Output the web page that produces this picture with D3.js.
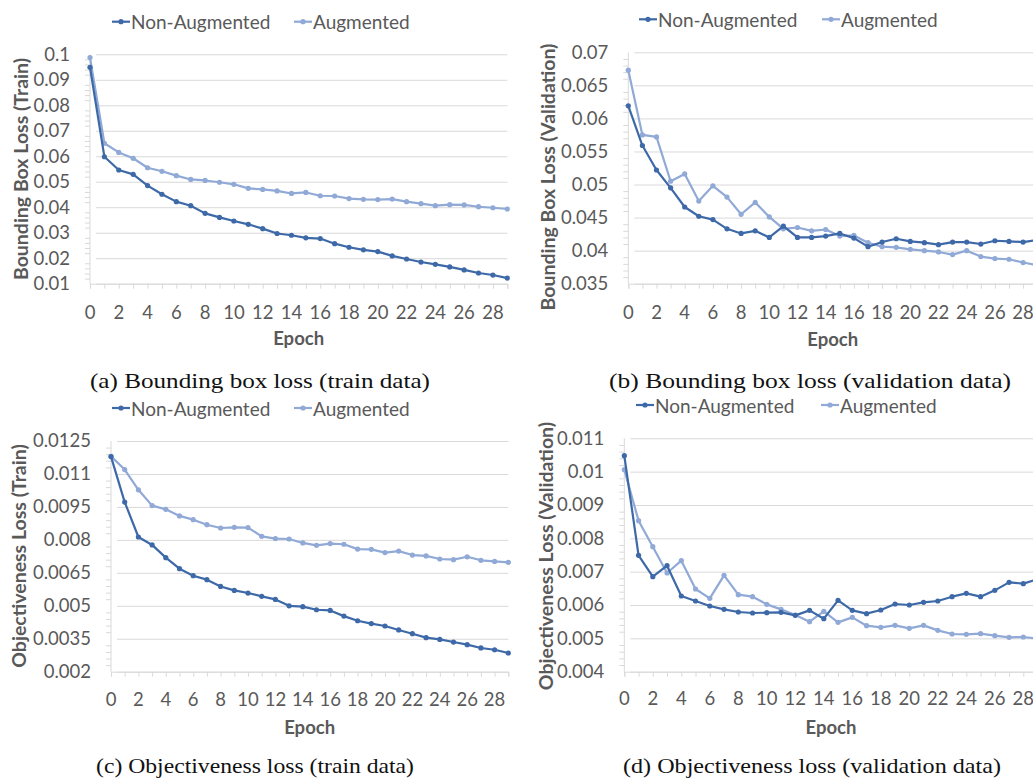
<!DOCTYPE html>
<html>
<head>
<meta charset="utf-8">
<script src="https://cdn.jsdelivr.net/npm/d3@7"></script>
<style>
  body { margin: 0; background: #fff; }
  svg { display: block; }
</style>
</head>
<body>
<svg id="chart"></svg>
<script>
// epochs and x tick labels
const epochs = d3.range(30);
const epochTicks = [0, 2, 4, 6, 8, 10, 12, 14, 16, 18, 20, 22, 24, 26, 28];

// (a) bounding box loss, train
const bboxTrainNonAug = [0.0949, 0.0598, 0.0546, 0.0529, 0.0485, 0.0451, 0.0422, 0.0406, 0.0376, 0.0360,
  0.0346, 0.0333, 0.0316, 0.0297, 0.0290, 0.0280, 0.0277, 0.0257, 0.0243, 0.0233,
  0.0226, 0.0209, 0.0197, 0.0185, 0.0176, 0.0166, 0.0154, 0.0142, 0.0134, 0.0122];
const bboxTrainAug = [0.0987, 0.0651, 0.0615, 0.0592, 0.0555, 0.0541, 0.0524, 0.0509, 0.0505, 0.0498,
  0.0490, 0.0474, 0.0470, 0.0464, 0.0454, 0.0458, 0.0445, 0.0444, 0.0434, 0.0431,
  0.0430, 0.0432, 0.0422, 0.0414, 0.0406, 0.0410, 0.0409, 0.0402, 0.0398, 0.0393];
const bboxTrainTicks = [0.1, 0.09, 0.08, 0.07, 0.06, 0.05, 0.04, 0.03, 0.02, 0.01];

// (b) bounding box loss, validation
const bboxValNonAug = [0.0619, 0.0559, 0.0522, 0.0495, 0.0466, 0.0452, 0.0447, 0.0433, 0.0426, 0.0430,
  0.0420, 0.0437, 0.0420, 0.0420, 0.0422, 0.0426, 0.0419, 0.0406, 0.0413, 0.0418,
  0.0414, 0.0412, 0.0409, 0.0413, 0.0413, 0.0410, 0.0415, 0.0414, 0.0413, 0.0416];
const bboxValAug = [0.0673, 0.0575, 0.0572, 0.0505, 0.0516, 0.0475, 0.0498, 0.0481, 0.0455, 0.0473,
  0.0451, 0.0433, 0.0435, 0.0430, 0.0432, 0.0422, 0.0423, 0.0412, 0.0406, 0.0405,
  0.0402, 0.0400, 0.0398, 0.0394, 0.0400, 0.0391, 0.0388, 0.0387, 0.0382, 0.0378];
const bboxValTicks = [0.07, 0.065, 0.06, 0.055, 0.05, 0.045, 0.04, 0.035];

// (c) objectiveness loss, train
const objTrainNonAug = [0.01179, 0.00972, 0.00813, 0.00777, 0.00719, 0.00669, 0.00637, 0.00619, 0.00588, 0.00570,
  0.00558, 0.00543, 0.00529, 0.00500, 0.00496, 0.00482, 0.00479, 0.00453, 0.00432, 0.00419,
  0.00408, 0.00390, 0.00373, 0.00355, 0.00347, 0.00335, 0.00323, 0.00308, 0.00300, 0.00285];
const objTrainAug = [0.01180, 0.01120, 0.01028, 0.00956, 0.00939, 0.00909, 0.00892, 0.00869, 0.00854, 0.00857,
  0.00856, 0.00816, 0.00806, 0.00804, 0.00786, 0.00775, 0.00783, 0.00780, 0.00758, 0.00757,
  0.00742, 0.00749, 0.00731, 0.00727, 0.00713, 0.00710, 0.00723, 0.00707, 0.00702, 0.00698];
const objTrainTicks = [0.0125, 0.011, 0.0095, 0.008, 0.0065, 0.005, 0.0035, 0.002];

// (d) objectiveness loss, validation
const objValNonAug = [0.01048, 0.00749, 0.00685, 0.00718, 0.00627, 0.00612, 0.00597, 0.00587, 0.00579, 0.00576,
  0.00577, 0.00578, 0.00569, 0.00584, 0.00559, 0.00614, 0.00584, 0.00574, 0.00585, 0.00603,
  0.00600, 0.00608, 0.00612, 0.00625, 0.00635, 0.00625, 0.00644, 0.00668, 0.00664, 0.00677];
const objValAug = [0.01006, 0.00853, 0.00775, 0.00696, 0.00733, 0.00648, 0.00620, 0.00689, 0.00631, 0.00625,
  0.00602, 0.00587, 0.00570, 0.00550, 0.00581, 0.00548, 0.00563, 0.00538, 0.00533, 0.00539,
  0.00530, 0.00539, 0.00524, 0.00513, 0.00512, 0.00514, 0.00508, 0.00503, 0.00504, 0.00499];
const objValTicks = [0.011, 0.01, 0.009, 0.008, 0.007, 0.006, 0.005, 0.004];

const seriesNames = ["Non-Augmented", "Augmented"];

const W = 1033, H = 778;
const colNon = "#3e69a8";
const colAug = "#90a9d6";
const textCol = "#595959";
const gridCol = "#d9d9d9";
const sansFont = "Lato, 'Open Sans', sans-serif";
const serifFont = "'Liberation Serif', 'DejaVu Serif', serif";

const svg = d3.select("#chart").attr("width", W).attr("height", H);

const panels = [
  { non: bboxTrainNonAug, aug: bboxTrainAug, ticks: bboxTrainTicks, minor: 5,
    title: "Bounding Box Loss (Train)", caption: "(a) Bounding box loss (train data)",
    left: 90, step: 14.39, top: 54.3, bottom: 283.7,
    legendX: 112, legendY: 21.7, legendGap: 182,
    titleX: 20, titleY: 169, tickY: 312, epochY: 338,
    captionX: 260, captionY: 380, captionW: 340 },
  { non: bboxValNonAug, aug: bboxValAug, ticks: bboxValTicks, minor: 5,
    title: "Bounding Box Loss (Validation)", caption: "(b) Bounding box loss (validation data)",
    left: 628.3, step: 14.1, top: 52.3, bottom: 283.7,
    legendX: 639, legendY: 19.3, legendGap: 183,
    titleX: 547, titleY: 177, tickY: 312, epochY: 339,
    captionX: 810, captionY: 380, captionW: 402 },
  { non: objTrainNonAug, aug: objTrainAug, ticks: objTrainTicks, minor: 5,
    title: "Objectiveness Loss (Train)", caption: "(c) Objectiveness loss (train data)",
    left: 111, step: 13.7, top: 441, bottom: 671.7,
    legendX: 112, legendY: 408, legendGap: 182,
    titleX: 18, titleY: 556, tickY: 699, epochY: 727,
    captionX: 255, captionY: 765, captionW: 318 },
  { non: objValNonAug, aug: objValAug, ticks: objValTicks, minor: 5,
    title: "Objectiveness Loss (Validation)", caption: "(d) Objectiveness loss (validation data)",
    left: 624.3, step: 14.25, top: 438.3, bottom: 671.7,
    legendX: 636, legendY: 405, legendGap: 185,
    titleX: 545, titleY: 556, tickY: 698, epochY: 727,
    captionX: 812, captionY: 765, captionW: 378 }
];

panels.forEach(p => {
  const right = p.left + p.step * 29;
  const x = d3.scaleLinear().domain([0, 29]).range([p.left, right]);
  const y = d3.scaleLinear().domain(d3.extent(p.ticks)).range([p.bottom, p.top]);
  const g = svg.append("g");

  // minor ticks on the y axis
  const majorStep = Math.abs(p.ticks[0] - p.ticks[1]);
  const minorVals = [];
  for (let i = 0; i < p.ticks.length - 1; i++) {
    for (let k = 1; k < p.minor; k++) minorVals.push(p.ticks[i + 1] + majorStep * k / p.minor);
  }
  g.append("g")
    .attr("transform", `translate(${p.left},0)`)
    .call(d3.axisLeft(y).tickValues(minorVals).tickSize(5).tickFormat(""))
    .call(s => s.select(".domain").remove())
    .call(s => s.selectAll("line").attr("stroke", gridCol));

  // gridlines + y labels
  g.append("g")
    .attr("transform", `translate(${p.left},0)`)
    .call(d3.axisLeft(y).tickValues(p.ticks).tickSize(-(right - p.left)).tickPadding(0)
      .tickFormat(d => String(+d.toFixed(5))))
    .call(s => s.select(".domain").remove())
    .call(s => s.selectAll("line").attr("stroke", gridCol).attr("x1", 6))
    .call(s => s.selectAll("text")
      .attr("x", -20)
      .attr("fill", textCol)
      .style("font-family", sansFont)
      .style("font-size", "18.5px"));

  // y axis line
  g.append("line")
    .attr("x1", p.left).attr("x2", p.left)
    .attr("y1", p.top).attr("y2", p.bottom)
    .attr("stroke", gridCol);

  // x axis
  g.append("g")
    .attr("transform", `translate(0,${p.bottom})`)
    .call(d3.axisBottom(x).tickValues(epochs).tickSize(5).tickFormat(""))
    .call(s => s.select(".domain").attr("stroke", gridCol))
    .call(s => s.selectAll("line").attr("stroke", gridCol));

  g.append("g")
    .selectAll("text")
    .data(epochTicks)
    .join("text")
    .attr("x", d => x(d))
    .attr("y", p.tickY)
    .attr("text-anchor", "middle")
    .attr("dominant-baseline", "central")
    .attr("fill", textCol)
    .style("font-family", sansFont)
    .style("font-size", "18.5px")
    .text(d => d);

  // axis titles
  g.append("text")
    .attr("x", (p.left + right) / 2)
    .attr("y", p.epochY)
    .attr("text-anchor", "middle")
    .attr("dominant-baseline", "central")
    .attr("fill", textCol)
    .style("font-family", sansFont)
    .style("font-weight", "bold")
    .style("font-size", "18.5px")
    .text("Epoch");

  g.append("text")
    .attr("transform", `translate(${p.titleX},${p.titleY}) rotate(-90)`)
    .attr("text-anchor", "middle")
    .attr("dominant-baseline", "central")
    .attr("fill", textCol)
    .style("font-family", sansFont)
    .style("font-weight", "bold")
    .style("font-size", "19.5px")
    .text(p.title);

  // lines with markers
  const line = d3.line().x((d, i) => x(i)).y(d => y(d));
  [[p.aug, colAug], [p.non, colNon]].forEach(([vals, col]) => {
    g.append("path")
      .attr("d", line(vals))
      .attr("fill", "none")
      .attr("stroke", col)
      .attr("stroke-width", 2.2)
      .attr("stroke-linejoin", "round");
    g.selectAll(null)
      .data(vals)
      .join("circle")
      .attr("cx", (d, i) => x(i))
      .attr("cy", d => y(d))
      .attr("r", 2.6)
      .attr("fill", col);
  });

  // legend
  const legend = g.append("g")
    .attr("transform", `translate(${p.legendX},${p.legendY})`);
  const items = legend.selectAll("g")
    .data(seriesNames)
    .join("g")
    .attr("transform", (d, i) => `translate(${i * p.legendGap},0)`);
  items.append("line")
    .attr("x1", 0).attr("x2", 18)
    .attr("stroke", (d, i) => i === 0 ? colNon : colAug)
    .attr("stroke-width", 2.2);
  items.append("circle")
    .attr("cx", 9).attr("r", 2.6)
    .attr("fill", (d, i) => i === 0 ? colNon : colAug);
  items.append("text")
    .attr("x", 19)
    .attr("dominant-baseline", "central")
    .attr("fill", textCol)
    .style("font-family", sansFont)
    .style("font-size", "19px")
    .text(d => d);

  // caption
  svg.append("text")
    .attr("x", p.captionX)
    .attr("y", p.captionY)
    .attr("text-anchor", "middle")
    .attr("dominant-baseline", "central")
    .attr("textLength", p.captionW)
    .attr("lengthAdjust", "spacingAndGlyphs")
    .attr("fill", "#111")
    .style("font-family", serifFont)
    .style("font-size", "22px")
    .text(p.caption);
});
</script>
</body>
</html>
